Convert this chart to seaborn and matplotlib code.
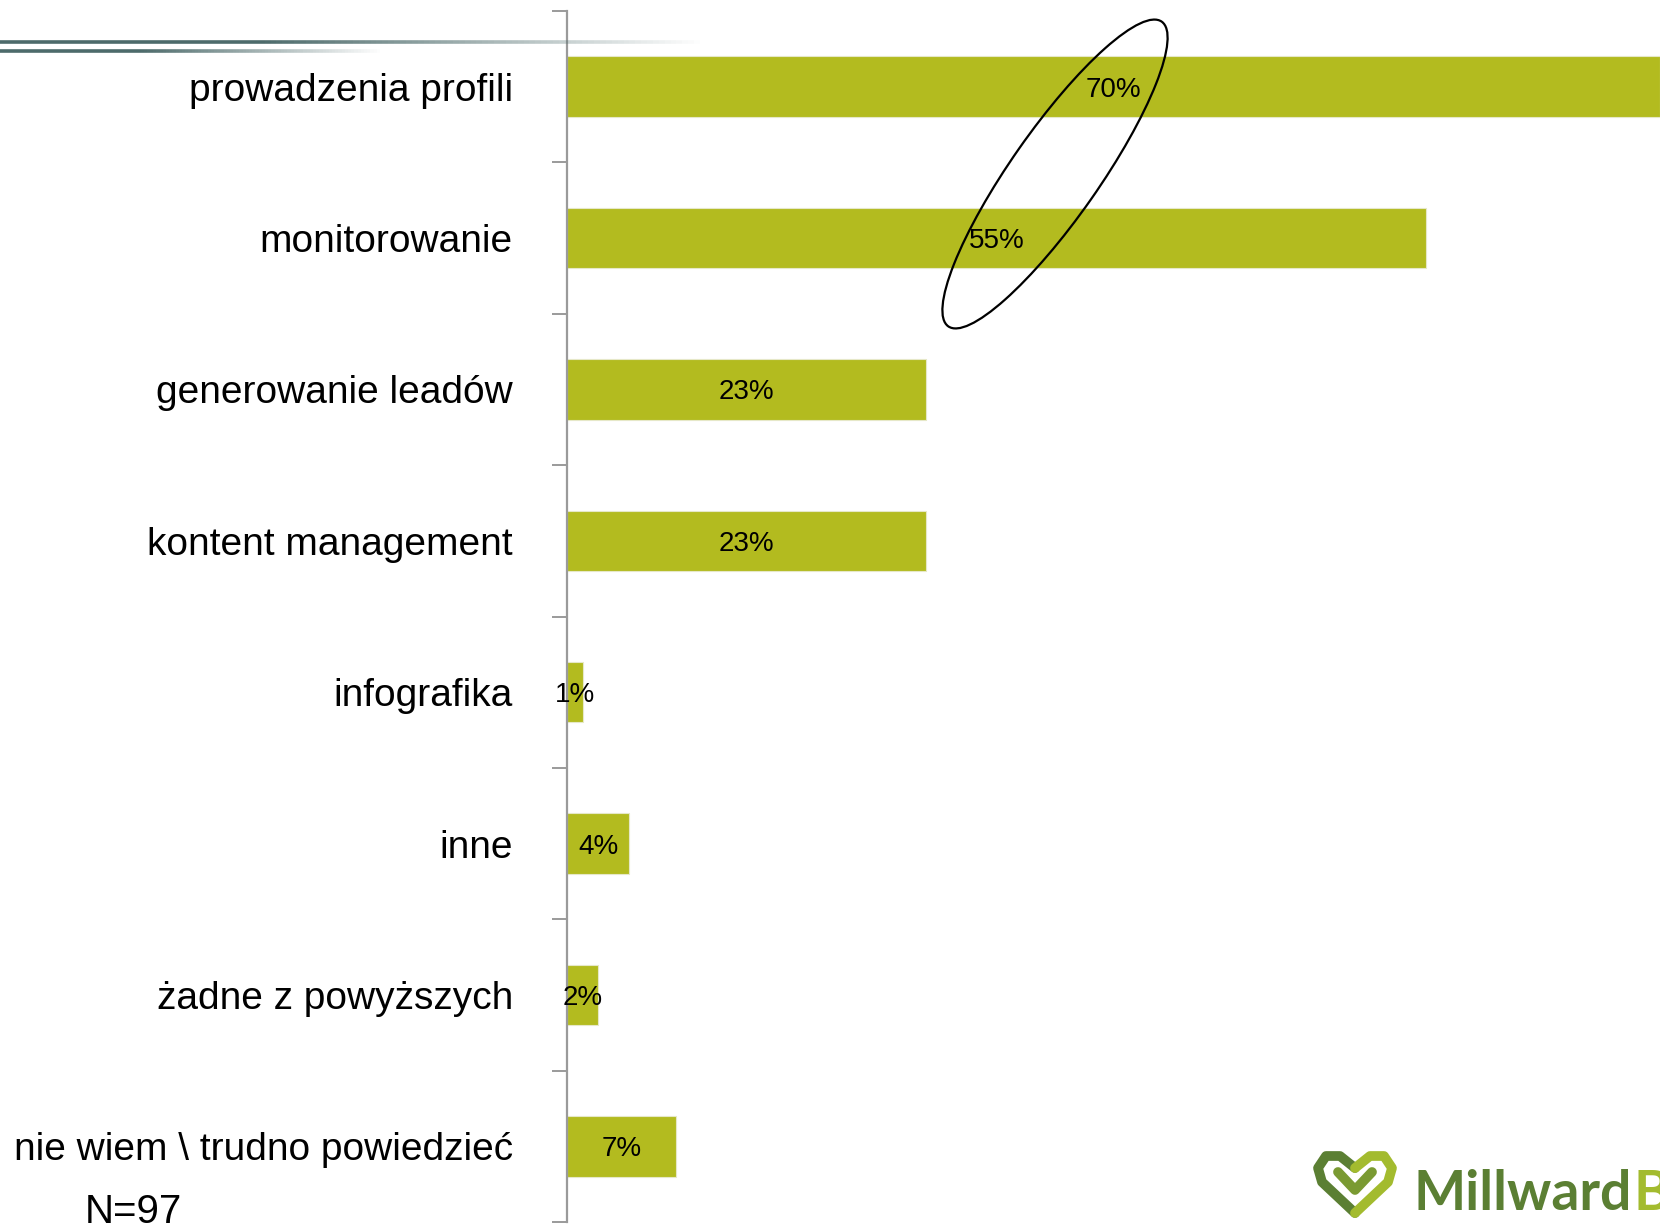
import numpy as np
import pandas as pd
import matplotlib
matplotlib.use("Agg")
import matplotlib.pyplot as plt
import seaborn as sns
from matplotlib.patches import Ellipse
from matplotlib.collections import LineCollection
from matplotlib import font_manager

# data
categories = ["prowadzenia profili", "monitorowanie", "generowanie leadów",
              "kontent management", "infografika", "inne",
              "żadne z powyższych", "nie wiem \\ trudno powiedzieć"]
values = [70, 55, 23, 23, 1, 4, 2, 7]
value_labels = ["70%", "55%", "23%", "23%", "1%", "4%", "2%", "7%"]
sample_note = "N=97"

df = pd.DataFrame({"category": categories, "value": values})

sns.set_style("white")
names = {f.name for f in font_manager.fontManager.ttflist}
narrow = "Liberation Sans Narrow" if "Liberation Sans Narrow" in names else "Liberation Sans"
plt.rcParams["font.family"] = [narrow, "DejaVu Sans"]
plt.rcParams["text.color"] = "black"

bar_color = "#b3bb1f"
grey = "#9a9a9a"

fig = plt.figure(figsize=(16.6, 12.3), dpi=100)
ax = fig.add_axes([567 / 1660, 8 / 1230, 1 - 567 / 1660, 1211 / 1230])

sns.barplot(data=df, x="value", y="category", orient="h", color=bar_color,
            width=0.4, saturation=1, edgecolor="#e6e8c8", linewidth=0.8, ax=ax)

ax.set_xlim(0, 70)
ax.set_ylim(len(categories) - 0.5, -0.5)
ax.set_xlabel("")
ax.set_ylabel("")
ax.set_xticks([])
for s in ["top", "right", "bottom"]:
    ax.spines[s].set_visible(False)
ax.spines["left"].set_color(grey)
ax.spines["left"].set_linewidth(1.6)

ax.set_yticks(np.arange(-0.5, len(categories), 1.0), minor=True)
ax.tick_params(axis="y", which="minor", left=True, length=11, width=1.4, color=grey)
ax.tick_params(axis="y", which="major", left=True, length=0, pad=39,
               labelsize=28, labelcolor="black")

for i, (v, lab) in enumerate(zip(values, value_labels)):
    ax.text(v / 2, i, lab, ha="center", va="center_baseline", fontsize=20, color="black")

# highlight ellipse around the top two values
ell = Ellipse((10.55, 10.56), 3.72, 0.88, angle=55, fill=False,
              edgecolor="black", linewidth=1.6, transform=fig.dpi_scale_trans)
fig.add_artist(ell)

# sample size note
fig.text(85 / 1660, 7 / 1230, sample_note, ha="left", va="baseline", fontsize=29,
         color="black")

# fading decorative lines at top left
for y_px, x_end, x_fade in [(41.5, 700, 260), (50.5, 380, 140)]:
    xs = np.linspace(0, x_end, 120)
    segs = [[(xs[k] / 1660, 1 - y_px / 1230), (xs[k + 1] / 1660, 1 - y_px / 1230)]
            for k in range(len(xs) - 1)]
    alphas = np.clip(1 - (xs[:-1] - x_fade) / (x_end - x_fade), 0, 1)
    cols = [(0.30, 0.42, 0.42, a) for a in alphas]
    fig.add_artist(LineCollection(segs, colors=cols, linewidths=2.6,
                                  transform=fig.transFigure))

# logo
logo_font = ["Lato", "DejaVu Sans"]
t1 = fig.text(1413 / 1660, 20 / 1230, "Millward", ha="left", va="baseline",
              fontsize=47, fontweight="bold", color="#5b7f33", family=logo_font)
fig.canvas.draw()
w = t1.get_window_extent().width
t1.set_fontsize(47 * 218 / w)
fig.canvas.draw()
bb = t1.get_window_extent()
fig.text(bb.x1 / 1660 + 2 / 1660, 20 / 1230, "B", ha="left", va="baseline",
         fontsize=t1.get_fontsize(), fontweight="bold", color="#a3bb2e",
         family=logo_font)

def px(x, y):
    return (x / 1660, 1 - y / 1230)

left_half = [px(1355, 1213), px(1322, 1182), px(1318, 1168), px(1326, 1156),
             px(1340, 1156), px(1355, 1168)]
right_half = [px(1355, 1168), px(1370, 1156), px(1384, 1156), px(1392, 1168),
              px(1388, 1182), px(1355, 1213)]
inner = [px(1338, 1172), px(1355, 1190), px(1372, 1172)]
for pts, c in [(left_half, "#5b7f33"), (right_half, "#a3bb2e"), (inner, "#7a9a32")]:
    xs_, ys_ = zip(*pts)
    fig.add_artist(plt.Line2D(xs_, ys_, color=c, linewidth=7,
                              solid_capstyle="round", solid_joinstyle="round",
                              transform=fig.transFigure))

fig.savefig("out.png", dpi=100)
